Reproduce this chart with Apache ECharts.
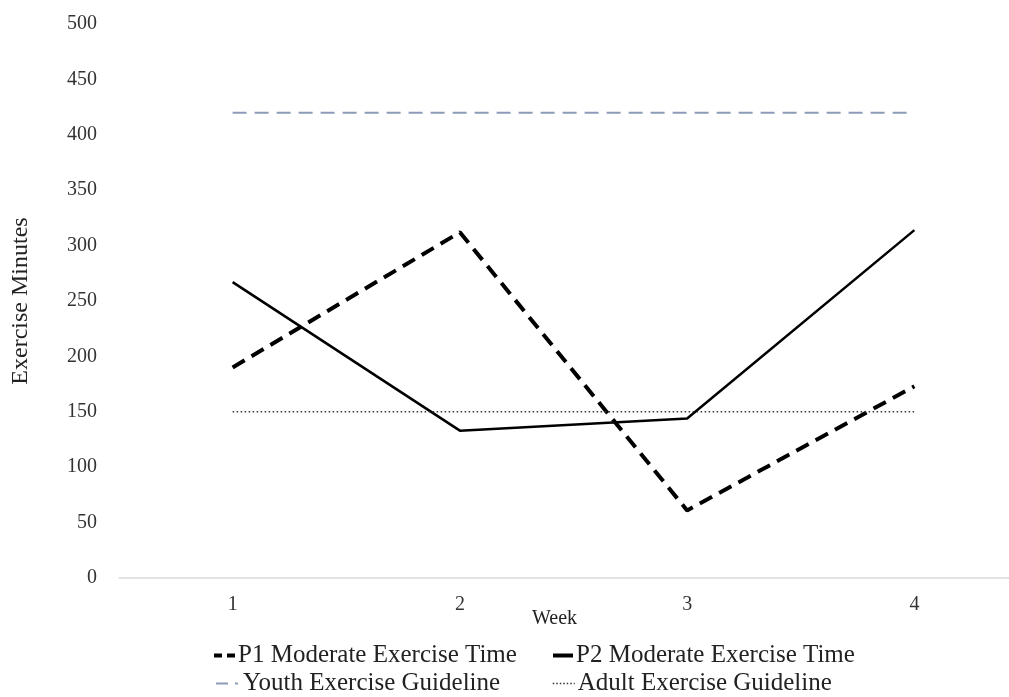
<!DOCTYPE html>
<html>
<head>
<meta charset="utf-8">
<script src="https://cdn.jsdelivr.net/npm/echarts@6/dist/echarts.min.js"></script>
<style>
html,body{margin:0;padding:0;background:#fff;overflow:hidden;width:1009px;height:697px;}
#chart{width:1028px;height:697px;}
</style>
</head>
<body>
<div id="chart"></div>
<script>
const weeks = ['1', '2', '3', '4'];
const p1Moderate = [190, 312, 61, 173];
const p2Moderate = [267, 133, 144, 314];
const youthGuideline = [420, 420, 420, 420];
const adultGuideline = [150, 150, 150, 150];
const seriesNames = ['P1 Moderate Exercise Time', 'P2 Moderate Exercise Time', 'Youth Exercise Guideline', 'Adult Exercise Guideline'];

const FONT = '"Liberation Serif", "Times New Roman", serif';
const chart = echarts.init(document.getElementById('chart'), null, {renderer: 'canvas'});

function legendAt(name, left, top, w, lineStyle, gap) {
  return {
    data: [name], left: left, top: top, orient: 'horizontal',
    itemWidth: w, itemHeight: 14, itemGap: 10,
    textStyle: {fontFamily: FONT, fontSize: 25, color: '#222', padding: [0, 0, 0, gap]},
    itemStyle: {color: 'rgba(0,0,0,0)', opacity: 0, borderWidth: 0},
    lineStyle: lineStyle,
    padding: 0, selectedMode: false
  };
}

chart.setOption({
  animation: false,
  backgroundColor: '#fff',
  grid: {left: 119, top: 24, right: 0, height: 554, containLabel: false},
  legend: [
    legendAt(seriesNames[0], 212, 643, 21, {type: [8, 5], width: 4, color: '#000'}, -2),
    legendAt(seriesNames[1], 551, 643, 20, {type: 'solid', width: 4, color: '#000'}, -2),
    legendAt(seriesNames[2], 215, 671, 22, {type: [12, 7], width: 2, color: '#8C9CB8'}, 0),
    legendAt(seriesNames[3], 552, 671, 22, {type: [1.5, 2], width: 1.5, color: '#333'}, -2)
  ],
  xAxis: {
    type: 'category', data: weeks, boundaryGap: true,
    name: 'Week', nameLocation: 'middle', nameGap: 31, nameMoveOverlap: false,
    nameTextStyle: {fontFamily: FONT, fontSize: 20, color: '#222', padding: [0, 38, 0, 0]},
    axisLine: {show: true, lineStyle: {color: '#D9D9D9', width: 1.5}},
    axisTick: {show: false},
    axisLabel: {fontFamily: FONT, fontSize: 20, color: '#333', margin: 17},
    splitLine: {show: false}
  },
  yAxis: {
    type: 'value', min: 0, max: 500, interval: 50,
    name: 'Exercise Minutes', nameLocation: 'middle', nameGap: 86, nameRotate: 90,
    nameTextStyle: {fontFamily: FONT, fontSize: 24, color: '#222'},
    axisLine: {show: false}, axisTick: {show: false},
    axisLabel: {fontFamily: FONT, fontSize: 20, color: '#333', margin: 22},
    splitLine: {show: false}
  },
  series: [
    {name: seriesNames[0], type: 'line', data: p1Moderate, symbol: 'none',
     lineStyle: {color: '#000', width: 4, type: [14, 8]}, itemStyle: {color: '#000'}},
    {name: seriesNames[1], type: 'line', data: p2Moderate, symbol: 'none',
     lineStyle: {color: '#000', width: 2.5, type: 'solid'}, itemStyle: {color: '#000'}},
    {name: seriesNames[2], type: 'line', data: youthGuideline, symbol: 'none',
     lineStyle: {color: '#8C9CB8', width: 2, type: [14, 8]}, itemStyle: {color: '#8C9CB8'}},
    {name: seriesNames[3], type: 'line', data: adultGuideline, symbol: 'none',
     lineStyle: {color: '#333', width: 1.5, type: [1.5, 2.5]}, itemStyle: {color: '#333'}}
  ]
});
</script>
</body>
</html>
